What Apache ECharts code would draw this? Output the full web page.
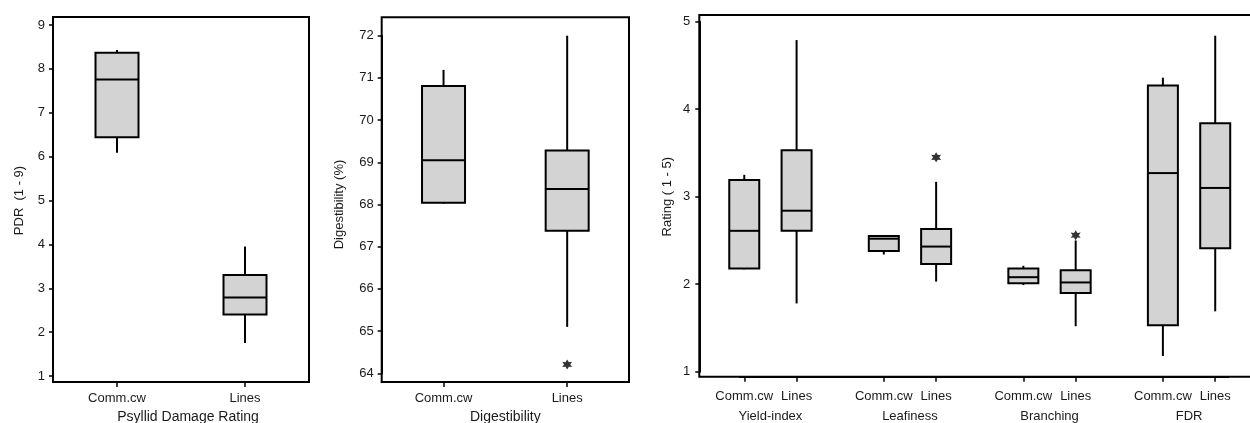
<!DOCTYPE html>
<html><head><meta charset="utf-8">
<script src="https://cdn.jsdelivr.net/npm/echarts@6/dist/echarts.min.js"></script>
<style>html,body{margin:0;padding:0;background:#fff}#c{width:1250px;height:423px}</style>
</head><body><div id="c"></div>
<script>
// ---- data ----
const types = ['Comm.cw', 'Lines'];
// each box: [min, Q1, median, Q3, max]
const pdrBox = [[6.09, 6.44, 7.76, 8.37, 8.43], [1.75, 2.40, 2.79, 3.30, 3.95]];
const digBox = [[68.02, 68.04, 69.05, 70.81, 71.19], [65.10, 67.38, 68.37, 69.28, 72.00]];
const digOutliers = [['Lines', 64.21]];
const traitGroups = ['Yield-index', 'Leafiness', 'Branching', 'FDR'];
const yieldBox = [[2.17, 2.18, 2.61, 3.19, 3.25], [1.78, 2.61, 2.84, 3.53, 4.79]];
const leafBox = [[2.34, 2.38, 2.52, 2.55, 2.56], [2.03, 2.23, 2.43, 2.63, 3.17]];
const branchBox = [[1.99, 2.01, 2.08, 2.18, 2.21], [1.52, 1.90, 2.02, 2.16, 2.50]];
const fdrBox = [[1.18, 1.53, 3.27, 4.27, 4.36], [1.69, 2.41, 3.10, 3.84, 4.84]];
const traitOutliers = [['Leafiness', 'Lines', 3.45], ['Branching', 'Lines', 2.56]];
const pdrTicks = [1, 9];
const digTicks = [64, 72];
const ratingTicks = [1, 5];

// ---- build ----
const FONT = "'Liberation Sans', Arial, sans-serif";
const TXT = '#1a1a1a';
const traitBoxes = [yieldBox, leafBox, branchBox, fdrBox];
const SLOTS_PER_GROUP = 16, LINES_SLOT = 6, GROUP_LABEL_SLOT = 3, N_SLOTS = 56;
const traitCats = [], groupCats = [];
for (let i = 0; i < N_SLOTS; i++) {
  const g = Math.floor(i / SLOTS_PER_GROUP), r = i % SLOTS_PER_GROUP;
  traitCats.push(r === 0 ? traitGroups[g] + '|' + types[0] : r === LINES_SLOT ? traitGroups[g] + '|' + types[1] : '');
  groupCats.push(r === GROUP_LABEL_SLOT ? traitGroups[g] : '');
}
const pdrData = pdrBox.map((b, i) => [types[i]].concat(b));
const digData = digBox.map((b, i) => [types[i]].concat(b));
const traitData = [];
traitBoxes.forEach((boxes, g) => boxes.forEach((b, t) => traitData.push([traitGroups[g] + '|' + types[t]].concat(b))));
const traitOut = traitOutliers.map(o => [o[0] + '|' + o[1], o[2]]);

function boxRender(halfW) {
  return function (params, api) {
    const x = api.value(0);
    const pMin = api.coord([x, api.value(1)]);
    const pQ1 = api.coord([x, api.value(2)]);
    const pMed = api.coord([x, api.value(3)]);
    const pQ3 = api.coord([x, api.value(4)]);
    const pMax = api.coord([x, api.value(5)]);
    const cx = pMed[0];
    const ls = { stroke: '#000', lineWidth: 2 };
    return { type: 'group', children: [
      { type: 'line', shape: { x1: cx, y1: pMax[1], x2: cx, y2: pQ3[1] }, style: ls },
      { type: 'line', shape: { x1: cx, y1: pQ1[1], x2: cx, y2: pMin[1] }, style: ls },
      { type: 'rect', shape: { x: cx - halfW, y: pQ3[1], width: 2 * halfW, height: pQ1[1] - pQ3[1] },
        style: { fill: '#d3d3d3', stroke: '#000', lineWidth: 2 } },
      { type: 'line', shape: { x1: cx - halfW, y1: pMed[1], x2: cx + halfW, y2: pMed[1] }, style: ls }
    ] };
  };
}

const axisLine = { show: true, lineStyle: { color: '#000', width: 2 } };
const label = (margin) => ({ margin: margin, fontSize: 13, color: TXT, fontFamily: FONT });
const tick = (len) => ({ show: true, length: len, lineStyle: { color: '#000', width: 1.5 } });
const noBounds = { containLabel: false, outerBoundsMode: 'none' };
const frame = (l, t, w, h) => Object.assign({ left: l, top: t, width: w, height: h, show: true, borderColor: '#000', borderWidth: 2, backgroundColor: 'transparent' }, noBounds);
const dataGrid = (l, t, w, h) => Object.assign({ left: l, top: t, width: w, height: h }, noBounds);
const hiddenAxis = (gi) => ({ gridIndex: gi, type: 'value', show: false, min: 0, max: 1 });
const outSymbol = 'path://M0,-5L1.5,-2.3L4.4,-2.6L2.7,0L4.4,2.6L1.5,2.3L0,5L-1.5,2.3L-4.4,2.6L-2.7,0L-4.4,-2.6L-1.5,-2.3Z';

const option = {
  animation: false,
  backgroundColor: '#fff',
  textStyle: { fontFamily: FONT },
  grid: [
    frame(53, 17, 256, 365),
    dataGrid(53, 25, 256, 351),
    frame(381.7, 17.3, 247.3, 364.7),
    dataGrid(381.7, 35.7, 247.3, 337.6),
    frame(699.3, 15, 556, 361.7),
    dataGrid(739.9, 21.7, 488.4, 350)
  ],
  xAxis: [
    { gridIndex: 1, type: 'category', data: types, offset: 6, axisLine: axisLine,
      axisTick: Object.assign(tick(5), { alignWithLabel: true }), axisLabel: label(10),
      name: 'Psyllid Damage Rating', nameLocation: 'middle', nameGap: 23,
      nameTextStyle: { fontSize: 14, color: TXT, fontFamily: FONT, padding: [0, 0, 0, 14] } },
    { gridIndex: 3, type: 'category', data: types, offset: 8.7, axisLine: axisLine,
      axisTick: Object.assign(tick(5), { alignWithLabel: true }), axisLabel: label(10),
      name: 'Digestibility', nameLocation: 'middle', nameGap: 23,
      nameTextStyle: { fontSize: 14, color: TXT, fontFamily: FONT } },
    { gridIndex: 5, type: 'category', data: traitCats, offset: 5, axisLine: axisLine,
      axisTick: Object.assign(tick(5), { alignWithLabel: true, interval: (i, v) => v !== '' }),
      axisLabel: Object.assign(label(13), { interval: (i, v) => v !== '', formatter: v => v.split('|')[1] || '' }) },
    { gridIndex: 5, type: 'category', data: groupCats, position: 'bottom', offset: 5,
      axisLine: { show: false }, axisTick: { show: false },
      axisLabel: Object.assign(label(33), { interval: (i, v) => v !== '' }) },
    hiddenAxis(0), hiddenAxis(2), hiddenAxis(4)
  ],
  yAxis: [
    { gridIndex: 1, type: 'value', min: pdrTicks[0], max: pdrTicks[1], interval: 1, axisLine: axisLine,
      axisTick: tick(4), axisLabel: label(8), splitLine: { show: false },
      name: 'PDR  (1 - 9)', nameLocation: 'middle', nameGap: 27,
      nameTextStyle: { fontSize: 13, color: TXT, fontFamily: FONT } },
    { gridIndex: 3, type: 'value', min: digTicks[0], max: digTicks[1], interval: 1, axisLine: axisLine,
      axisTick: tick(4), axisLabel: label(8), splitLine: { show: false },
      name: 'Digestibility (%)', nameLocation: 'middle', nameGap: 36,
      nameTextStyle: { fontSize: 13, color: TXT, fontFamily: FONT } },
    { gridIndex: 5, type: 'value', min: ratingTicks[0], max: ratingTicks[1], interval: 1, offset: 40.6, axisLine: axisLine,
      axisTick: tick(4), axisLabel: label(9), splitLine: { show: false },
      name: 'Rating ( 1 - 5)', nameLocation: 'middle', nameGap: 25,
      nameTextStyle: { fontSize: 13, color: TXT, fontFamily: FONT } },
    hiddenAxis(0), hiddenAxis(2), hiddenAxis(4)
  ],
  series: [
    { type: 'custom', xAxisIndex: 0, yAxisIndex: 0, data: pdrData, encode: { x: 0, y: [1, 2, 3, 4, 5] }, renderItem: boxRender(21.5) },
    { type: 'custom', xAxisIndex: 1, yAxisIndex: 1, data: digData, encode: { x: 0, y: [1, 2, 3, 4, 5] }, renderItem: boxRender(21.5) },
    { type: 'scatter', xAxisIndex: 1, yAxisIndex: 1, data: digOutliers, symbol: outSymbol, symbolSize: 10, itemStyle: { color: '#000' } },
    { type: 'custom', xAxisIndex: 2, yAxisIndex: 2, data: traitData, encode: { x: 0, y: [1, 2, 3, 4, 5] }, renderItem: boxRender(15) },
    { type: 'scatter', xAxisIndex: 2, yAxisIndex: 2, data: traitOut, symbol: outSymbol, symbolSize: 10, itemStyle: { color: '#000' } }
  ]
};
const chart = echarts.init(document.getElementById('c'));
chart.setOption(option);
</script></body></html>
